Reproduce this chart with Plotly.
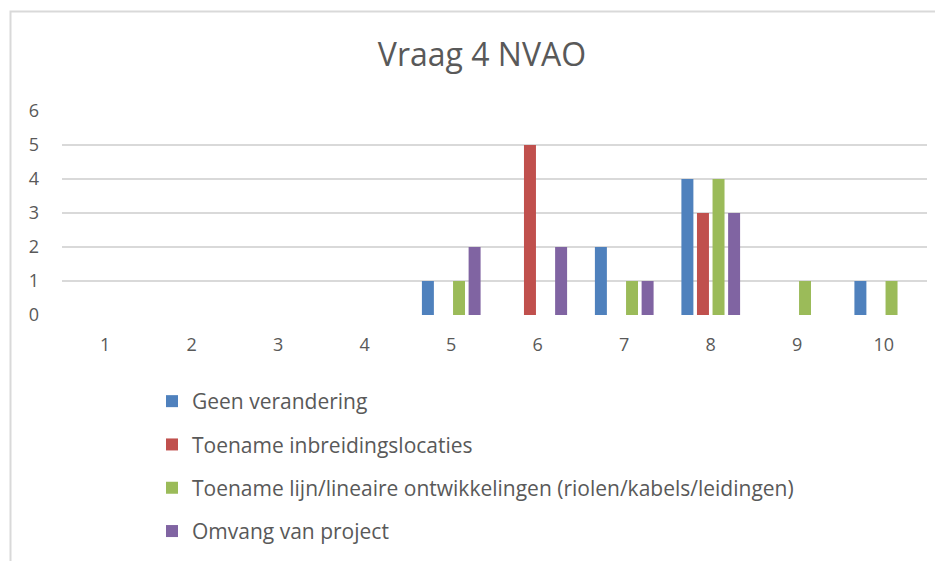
import plotly.graph_objects as go

categories = ["1", "2", "3", "4", "5", "6", "7", "8", "9", "10"]
series_names = [
    "Geen verandering",
    "Toename inbreidingslocaties",
    "Toename lijn/lineaire ontwikkelingen (riolen/kabels/leidingen)",
    "Omvang van project",
]
geen_verandering = [0, 0, 0, 0, 1, 0, 2, 4, 0, 1]
toename_inbreiding = [0, 0, 0, 0, 0, 5, 0, 3, 0, 0]
toename_lijn = [0, 0, 0, 0, 1, 0, 1, 4, 1, 1]
omvang_project = [0, 0, 0, 0, 2, 2, 1, 3, 0, 0]
y_ticks = [0, 1, 2, 3, 4, 5, 6]

colors = ["#4F81BD", "#C0504D", "#9BBB59", "#8064A2"]
values = [geen_verandering, toename_inbreiding, toename_lijn, omvang_project]

FONT = "Open Sans"
GREY = "#595959"

# the page body adds an 8px offset; layout targets below are in screen pixels
OFF = 8
W, H = 943 - OFF, 561 - OFF
L, R, T, B = 62 - OFF, 927 - OFF, 111 - OFF, 315 - OFF
pw, ph = R - L, B - T

def px_x(p):
    return (p - OFF - L) / pw

def px_y(p):
    return (B - (p - OFF)) / ph

fig = go.Figure()
for i, (name, vals) in enumerate(zip(series_names, values)):
    fig.add_trace(go.Bar(
        x=categories, y=vals, name=name,
        marker=dict(color=colors[i], line=dict(width=0)),
        legendgroup=f"g{i}",
    ))

fig.add_shape(type="rect", xref="paper", yref="paper",
              x0=px_x(10.5), x1=px_x(980), y0=px_y(11.5), y1=px_y(620),
              line=dict(color="#d9d9d9", width=2), fillcolor="rgba(0,0,0,0)",
              layer="below")

fig.update_layout(
    width=W, height=H,
    margin=dict(l=L, r=W - R, t=T, b=H - B, autoexpand=False),
    paper_bgcolor="white", plot_bgcolor="white",
    barmode="group", bargap=0.28, bargroupgap=0.23,
    font=dict(family=FONT, color=GREY, size=18),
    title=dict(text="Vraag 4 NVAO", x=(482 - OFF) / W, xanchor="center",
               y=1 - 47 / H, yanchor="middle",
               font=dict(family=FONT, size=32, color=GREY)),
    xaxis=dict(type="category", showgrid=False, zeroline=False, showline=False,
               automargin=False,
               ticks="", tickfont=dict(size=18, color=GREY), ticklabelstandoff=17),
    yaxis=dict(range=[0, 6], tickvals=y_ticks, showgrid=True, gridcolor="#d9d9d9",
               gridwidth=1.5, zeroline=False, showline=False, ticks="",
               automargin=False,
               tickfont=dict(size=18, color=GREY), ticklabelstandoff=22),
    showlegend=True,
    legend=dict(orientation="v", xref="container", yref="container",
                x=144 / W, xanchor="left",
                y=1 - 373 / H, yanchor="top", traceorder="grouped",
                tracegroupgap=13, font=dict(size=21, color=GREY),
                bgcolor="rgba(0,0,0,0)"),
)

fig.write_html("out.html")
